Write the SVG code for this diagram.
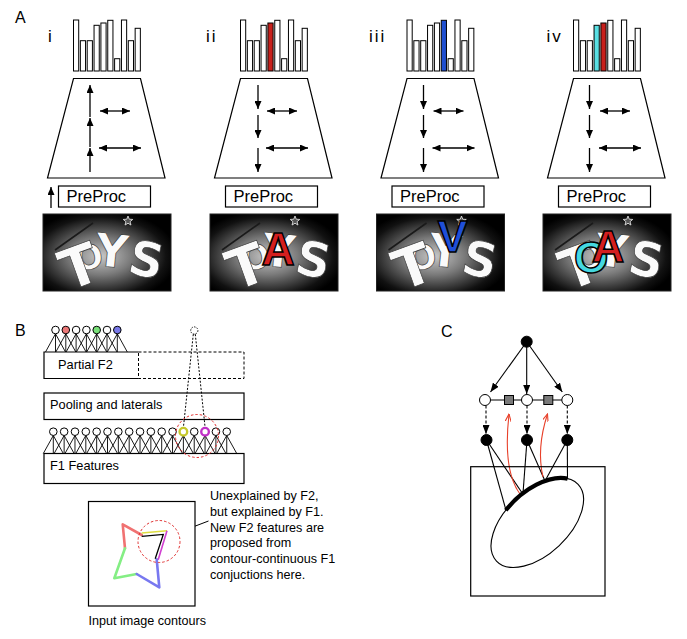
<svg xmlns="http://www.w3.org/2000/svg" width="687" height="639" viewBox="0 0 687 639">
<style>
text { font-family: "Liberation Sans", Arial, sans-serif; }
.bar { fill:#fff; stroke:#000; stroke-width:1; }
.trap { fill:#fff; stroke:#000; stroke-width:1.2; }
.arr { stroke:#000; stroke-width:1.3; fill:none; }
.box { fill:#fff; stroke:#000; stroke-width:1.2; }
.node { fill:#fff; stroke:#000; stroke-width:1; }
.bnode { fill:#000; stroke:#000; stroke-width:1; }
.fan { stroke:#000; stroke-width:0.9; fill:none; }
.lbl { font-size:16px; }
.num { font-size:17px; letter-spacing:2px; }
.pp { font-size:16.5px; }
.bt { font-size:12.8px; }
.toys text { font-family:"DejaVu Sans", sans-serif; font-weight:bold; fill:#fafafa; stroke:#3a3a3a; stroke-width:0.7; text-anchor:middle; }
.ov { font-family:"Liberation Sans", Arial, sans-serif; font-weight:bold; stroke:#000; stroke-width:1.5; text-anchor:middle; }
.red { fill:#d41f1f; }
.blue { fill:#1f4fd8; }
.cyan { fill:#44d8e0; }
.star { fill:#555; stroke:#eee; stroke-width:0.8; }
</style>
<defs>
<marker id="ar" viewBox="0 0 8 7" refX="8" refY="3.5" markerWidth="8" markerHeight="7" markerUnits="userSpaceOnUse" orient="auto-start-reverse"><path d="M0,0 L8,3.5 L0,7 z" fill="#000"/></marker>
<marker id="arC" viewBox="0 0 9 7" refX="9" refY="3.5" markerWidth="9" markerHeight="7" markerUnits="userSpaceOnUse" orient="auto"><path d="M0,0 L9,3.5 L0,7 z" fill="#000"/></marker>
<marker id="arS" viewBox="0 0 8 6" refX="8" refY="3" markerWidth="8" markerHeight="6" markerUnits="userSpaceOnUse" orient="auto"><path d="M0,0 L8,3 L0,6" fill="none" stroke="#000" stroke-width="1"/></marker>
<marker id="arR" viewBox="0 0 8 6" refX="7.5" refY="3" markerWidth="8" markerHeight="6" markerUnits="userSpaceOnUse" orient="auto"><path d="M0,0 L7.5,3 L0,6" fill="none" stroke="#e8402a" stroke-width="1.1"/></marker>
<radialGradient id="vig" cx="0.45" cy="0.55" r="0.6">
<stop offset="0" stop-color="#c8c8c8"/>
<stop offset="0.4" stop-color="#7a7a7a"/>
<stop offset="0.85" stop-color="#111"/>
<stop offset="1" stop-color="#000"/>
</radialGradient>
<clipPath id="imgclip"><rect x="43" y="214" width="128" height="77"/></clipPath>
</defs>

<rect width="687" height="639" fill="#fff"/>

<!-- Panel A -->
<text class="lbl" x="15" y="23">A</text>

<g id="panel-A-i">
<text class="num" x="48" y="42">i</text>
<g id="hist-i">
<rect class="bar" x="73.5" y="20" width="5.2" height="51"/>
<rect class="bar" x="80.35" y="40.7" width="5.2" height="30.3"/>
<rect class="bar" x="87.2" y="40.7" width="5.2" height="30.3"/>
<rect class="bar" x="94.05" y="25.3" width="5.2" height="45.7"/>
<rect class="bar" x="100.9" y="23" width="5.2" height="48"/>
<rect class="bar" x="107.75" y="20.3" width="5.2" height="50.7"/>
<rect class="bar" x="114.6" y="58.7" width="5.2" height="12.3"/>
<rect class="bar" x="121.45" y="20" width="5.2" height="51"/>
<rect class="bar" x="128.3" y="40.7" width="5.2" height="30.3"/>
<rect class="bar" x="135.15" y="28.3" width="5.2" height="42.7"/>
</g>
<g id="trap-i">
<polygon class="trap" points="73.5,78.5 140.5,78.5 165,178 47.5,178"/>
<line class="arr" x1="90" y1="172" x2="90" y2="148" marker-end="url(#ar)"/>
<line class="arr" x1="90" y1="147" x2="90" y2="118" marker-end="url(#ar)"/>
<line class="arr" x1="90" y1="117" x2="90" y2="85" marker-end="url(#ar)"/>
<line class="arr" x1="100" y1="111" x2="130" y2="111" marker-start="url(#ar)" marker-end="url(#ar)"/>
<line class="arr" x1="99" y1="148" x2="141" y2="148" marker-start="url(#ar)" marker-end="url(#ar)"/>
</g>
<g id="preproc-i">
<rect class="box" x="58.5" y="186" width="92" height="21"/>
<text class="pp" x="66.5" y="202">PreProc</text>
<line class="arr" x1="51" y1="208" x2="51" y2="187" marker-end="url(#ar)"/>
</g>
<g id="image-i">
<rect x="43" y="214" width="128" height="77" fill="url(#vig)" stroke="#222"/>
<g clip-path="url(#imgclip)">
<line x1="55" y1="250" x2="93" y2="223" stroke="#1a1a1a" stroke-width="1.6"/>
<polygon class="star" points="128,216 129.29,219.22 132.76,219.45 130.09,221.68 130.94,225.05 128,223.2 125.06,225.05 125.91,221.68 123.24,219.45 126.71,219.22"/>
<g class="toys">
<text transform="translate(91,269) rotate(-12)" font-size="34">O</text>
<text transform="translate(110,267) rotate(6)" font-size="46">Y</text>
<text transform="translate(143,276) rotate(12)" font-size="48">S</text>
<text transform="translate(86,285) rotate(-20)" font-size="56">T</text>
</g>
</g>
</g>
</g>

<g id="panel-A-ii" transform="translate(167,0)">
<text class="num" x="39" y="42">ii</text>
<g id="hist-ii">
<rect class="bar" x="73.5" y="20" width="5.2" height="51"/>
<rect class="bar" x="80.35" y="40.7" width="5.2" height="30.3"/>
<rect class="bar" x="87.2" y="40.7" width="5.2" height="30.3"/>
<rect class="bar" x="94.05" y="25.3" width="5.2" height="45.7"/>
<rect class="bar" x="100.9" y="23" width="5.2" height="48" style="fill:#c8201c"/>
<rect class="bar" x="107.75" y="20.3" width="5.2" height="50.7"/>
<rect class="bar" x="114.6" y="58.7" width="5.2" height="12.3"/>
<rect class="bar" x="121.45" y="20" width="5.2" height="51"/>
<rect class="bar" x="128.3" y="40.7" width="5.2" height="30.3"/>
<rect class="bar" x="135.15" y="28.3" width="5.2" height="42.7"/>
</g>
<g id="trap-ii">
<polygon class="trap" points="73.5,78.5 140.5,78.5 165,178 47.5,178"/>
<line class="arr" x1="91" y1="85" x2="91" y2="109" marker-end="url(#ar)"/>
<line class="arr" x1="91" y1="115" x2="91" y2="138" marker-end="url(#ar)"/>
<line class="arr" x1="91" y1="148" x2="91" y2="172" marker-end="url(#ar)"/>
<line class="arr" x1="100" y1="111" x2="130" y2="111" marker-start="url(#ar)" marker-end="url(#ar)"/>
<line class="arr" x1="99" y1="148" x2="141" y2="148" marker-start="url(#ar)" marker-end="url(#ar)"/>
</g>
<g id="preproc-ii">
<rect class="box" x="58.5" y="186" width="92" height="21"/>
<text class="pp" x="66.5" y="202">PreProc</text>
</g>
<g id="image-ii">
<rect x="43" y="214" width="128" height="77" fill="url(#vig)" stroke="#222"/>
<g clip-path="url(#imgclip)">
<line x1="55" y1="250" x2="93" y2="223" stroke="#1a1a1a" stroke-width="1.6"/>
<polygon class="star" points="128,216 129.29,219.22 132.76,219.45 130.09,221.68 130.94,225.05 128,223.2 125.06,225.05 125.91,221.68 123.24,219.45 126.71,219.22"/>
<g class="toys">
<text transform="translate(91,269) rotate(-12)" font-size="34">O</text>
<text transform="translate(110,267) rotate(6)" font-size="46">Y</text>
<text transform="translate(143,276) rotate(12)" font-size="48">S</text>
<text transform="translate(86,285) rotate(-20)" font-size="56">T</text>
</g>
<text class="ov red" x="111" y="265" font-size="46">A</text>
</g>
</g>
</g>

<g id="panel-A-iii" transform="translate(333.5,0)">
<text class="num" x="35.5" y="42">iii</text>
<g id="hist-iii">
<rect class="bar" x="73.5" y="20" width="5.2" height="51"/>
<rect class="bar" x="80.35" y="40.7" width="5.2" height="30.3"/>
<rect class="bar" x="87.2" y="40.7" width="5.2" height="30.3"/>
<rect class="bar" x="94.05" y="25.3" width="5.2" height="45.7"/>
<rect class="bar" x="100.9" y="23" width="5.2" height="48"/>
<rect class="bar" x="107.75" y="20.3" width="5.2" height="50.7" style="fill:#1f4fd0"/>
<rect class="bar" x="114.6" y="58.7" width="5.2" height="12.3"/>
<rect class="bar" x="121.45" y="20" width="5.2" height="51"/>
<rect class="bar" x="128.3" y="40.7" width="5.2" height="30.3"/>
<rect class="bar" x="135.15" y="28.3" width="5.2" height="42.7"/>
</g>
<g id="trap-iii">
<polygon class="trap" points="73.5,78.5 140.5,78.5 165,178 47.5,178"/>
<line class="arr" x1="90" y1="85" x2="90" y2="109" marker-end="url(#ar)"/>
<line class="arr" x1="90" y1="115" x2="90" y2="138" marker-end="url(#ar)"/>
<line class="arr" x1="90" y1="148" x2="90" y2="172" marker-end="url(#ar)"/>
<line class="arr" x1="100" y1="111" x2="130" y2="111" marker-start="url(#ar)" marker-end="url(#ar)"/>
<line class="arr" x1="99" y1="148" x2="141" y2="148" marker-start="url(#ar)" marker-end="url(#ar)"/>
</g>
<g id="preproc-iii">
<rect class="box" x="58.5" y="186" width="92" height="21"/>
<text class="pp" x="66.5" y="202">PreProc</text>
</g>
<g id="image-iii">
<rect x="43" y="214" width="128" height="77" fill="url(#vig)" stroke="#222"/>
<g clip-path="url(#imgclip)">
<line x1="55" y1="250" x2="93" y2="223" stroke="#1a1a1a" stroke-width="1.6"/>
<polygon class="star" points="128,216 129.29,219.22 132.76,219.45 130.09,221.68 130.94,225.05 128,223.2 125.06,225.05 125.91,221.68 123.24,219.45 126.71,219.22"/>
<g class="toys">
<text transform="translate(91,269) rotate(-12)" font-size="34">O</text>
<text transform="translate(110,267) rotate(6)" font-size="46">Y</text>
<text transform="translate(143,276) rotate(12)" font-size="48">S</text>
<text transform="translate(86,285) rotate(-20)" font-size="56">T</text>
</g>
<text class="ov blue" x="119" y="252" font-size="45">V</text>
</g>
</g>
</g>

<g id="panel-A-iv" transform="translate(500,0)">
<text class="num" x="46.5" y="42">iv</text>
<g id="hist-iv">
<rect class="bar" x="73.5" y="20" width="5.2" height="51"/>
<rect class="bar" x="80.35" y="40.7" width="5.2" height="30.3"/>
<rect class="bar" x="87.2" y="40.7" width="5.2" height="30.3"/>
<rect class="bar" x="94.05" y="25.3" width="5.2" height="45.7" style="fill:#5ae0e4"/>
<rect class="bar" x="100.9" y="23" width="5.2" height="48" style="fill:#c8201c"/>
<rect class="bar" x="107.75" y="20.3" width="5.2" height="50.7"/>
<rect class="bar" x="114.6" y="58.7" width="5.2" height="12.3"/>
<rect class="bar" x="121.45" y="20" width="5.2" height="51"/>
<rect class="bar" x="128.3" y="40.7" width="5.2" height="30.3"/>
<rect class="bar" x="135.15" y="28.3" width="5.2" height="42.7"/>
</g>
<g id="trap-iv">
<polygon class="trap" points="73.5,78.5 140.5,78.5 165,178 47.5,178"/>
<line class="arr" x1="89.5" y1="85" x2="89.5" y2="109" marker-end="url(#ar)"/>
<line class="arr" x1="89.5" y1="115" x2="89.5" y2="138" marker-end="url(#ar)"/>
<line class="arr" x1="89.5" y1="148" x2="89.5" y2="172" marker-end="url(#ar)"/>
<line class="arr" x1="100" y1="111" x2="130" y2="111" marker-start="url(#ar)" marker-end="url(#ar)"/>
<line class="arr" x1="99" y1="148" x2="141" y2="148" marker-start="url(#ar)" marker-end="url(#ar)"/>
</g>
<g id="preproc-iv">
<rect class="box" x="58.5" y="186" width="92" height="21"/>
<text class="pp" x="66.5" y="202">PreProc</text>
</g>
<g id="image-iv">
<rect x="43" y="214" width="128" height="77" fill="url(#vig)" stroke="#222"/>
<g clip-path="url(#imgclip)">
<line x1="55" y1="250" x2="93" y2="223" stroke="#1a1a1a" stroke-width="1.6"/>
<polygon class="star" points="128,216 129.29,219.22 132.76,219.45 130.09,221.68 130.94,225.05 128,223.2 125.06,225.05 125.91,221.68 123.24,219.45 126.71,219.22"/>
<g class="toys">
<text transform="translate(91,269) rotate(-12)" font-size="34">O</text>
<text transform="translate(110,267) rotate(6)" font-size="46">Y</text>
<text transform="translate(143,276) rotate(12)" font-size="48">S</text>
<text transform="translate(86,285) rotate(-20)" font-size="56">T</text>
</g>
<text class="ov cyan" x="91" y="273" font-size="44">O</text>
<text class="ov red" x="108" y="262" font-size="45">A</text>
</g>
</g>
</g>

<!-- Panel B -->
<text class="lbl" x="15" y="336">B</text>

<g id="B-fans">
<path class="fan" d="M45.5,352L55.5,333.8L65.5,352M55.5,333.8V352M55.8,352L65.8,333.8L75.8,352M65.8,333.8V352M66.1,352L76.1,333.8L86.1,352M76.1,333.8V352M76.4,352L86.4,333.8L96.4,352M86.4,333.8V352M86.7,352L96.7,333.8L106.7,352M96.7,333.8V352M97,352L107,333.8L117,352M107,333.8V352M107.3,352L117.3,333.8L127.3,352M117.3,333.8V352"/>
<path class="fan" d="M43.3,453.5L53.3,435.5L63.3,453.5M53.3,435.5V453.5M54.14,453.5L64.14,435.5L74.14,453.5M64.14,435.5V453.5M64.98,453.5L74.98,435.5L84.98,453.5M74.98,435.5V453.5M75.82,453.5L85.82,435.5L95.82,453.5M85.82,435.5V453.5M86.66,453.5L96.66,435.5L106.66,453.5M96.66,435.5V453.5M97.5,453.5L107.5,435.5L117.5,453.5M107.5,435.5V453.5M108.34,453.5L118.34,435.5L128.34,453.5M118.34,435.5V453.5M119.18,453.5L129.18,435.5L139.18,453.5M129.18,435.5V453.5M130.02,453.5L140.02,435.5L150.02,453.5M140.02,435.5V453.5M140.86,453.5L150.86,435.5L160.86,453.5M150.86,435.5V453.5M151.7,453.5L161.7,435.5L171.7,453.5M161.7,435.5V453.5M162.54,453.5L172.54,435.5L182.54,453.5M172.54,435.5V453.5M173.38,453.5L183.38,435.5L193.38,453.5M183.38,435.5V453.5M184.22,453.5L194.22,435.5L204.22,453.5M194.22,435.5V453.5M195.06,453.5L205.06,435.5L215.06,453.5M205.06,435.5V453.5M205.9,453.5L215.9,435.5L225.9,453.5M215.9,435.5V453.5M216.74,453.5L226.74,435.5L236.74,453.5M226.74,435.5V453.5"/>
</g>

<g id="partial-F2">
<path d="M138.5,352 H44 V378.5 H138.5" fill="#fff" stroke="#000" stroke-width="1.2"/>
<rect x="138.5" y="352" width="105.5" height="26.5" fill="none" stroke="#000" stroke-width="1" stroke-dasharray="3,2"/>
<text class="bt" x="58" y="369">Partial F2</text>
</g>
<g id="pooling">
<rect class="box" x="44" y="393" width="200" height="26.5"/>
<text class="bt" x="50" y="408.5">Pooling and laterals</text>
</g>
<g id="F1-features">
<rect class="box" x="44" y="453.5" width="200" height="30"/>
<text class="bt" x="50" y="470">F1 Features</text>
</g>

<g id="B-connectors">
<line x1="193.3" y1="334.2" x2="183.4" y2="427.5" stroke="#000" stroke-width="1" stroke-dasharray="2,1.6"/>
<line x1="195.3" y1="334.2" x2="205.1" y2="427.5" stroke="#000" stroke-width="1" stroke-dasharray="2,1.6"/>
<line x1="208.5" y1="521" x2="181" y2="531.5" stroke="#000" stroke-width="1" marker-end="url(#arS)"/>
</g>

<g id="F2-units">
<g id="f2-1"><circle class="node" cx="55.5" cy="330" r="3.8"/></g>
<g id="f2-2"><circle class="node" cx="65.8" cy="330" r="3.8" style="fill:#ec7878"/></g>
<g id="f2-3"><circle class="node" cx="76.1" cy="330" r="3.8"/></g>
<g id="f2-4"><circle class="node" cx="86.4" cy="330" r="3.8"/></g>
<g id="f2-5"><circle class="node" cx="96.7" cy="330" r="3.8" style="fill:#78e078"/></g>
<g id="f2-6"><circle class="node" cx="107" cy="330" r="3.8"/></g>
<g id="f2-7"><circle class="node" cx="117.3" cy="330" r="3.8" style="fill:#7878e8"/></g>
<g id="f2-new"><circle cx="194.3" cy="330.5" r="3.6" fill="#fff" stroke="#000" stroke-width="0.9" stroke-dasharray="1.5,1.2"/></g>
</g>

<g id="F1-units">
<g id="f1-1"><circle class="node" cx="53.3" cy="431.7" r="3.8"/></g>
<g id="f1-2"><circle class="node" cx="64.14" cy="431.7" r="3.8"/></g>
<g id="f1-3"><circle class="node" cx="74.98" cy="431.7" r="3.8"/></g>
<g id="f1-4"><circle class="node" cx="85.82" cy="431.7" r="3.8"/></g>
<g id="f1-5"><circle class="node" cx="96.66" cy="431.7" r="3.8"/></g>
<g id="f1-6"><circle class="node" cx="107.5" cy="431.7" r="3.8"/></g>
<g id="f1-7"><circle class="node" cx="118.34" cy="431.7" r="3.8"/></g>
<g id="f1-8"><circle class="node" cx="129.18" cy="431.7" r="3.8"/></g>
<g id="f1-9"><circle class="node" cx="140.02" cy="431.7" r="3.8"/></g>
<g id="f1-10"><circle class="node" cx="150.86" cy="431.7" r="3.8"/></g>
<g id="f1-11"><circle class="node" cx="161.7" cy="431.7" r="3.8"/></g>
<g id="f1-12"><circle class="node" cx="172.54" cy="431.7" r="3.8"/></g>
<g id="f1-13"><circle class="node" cx="183.38" cy="431.7" r="3.8" style="stroke:#c6c82c;stroke-width:2.4"/></g>
<g id="f1-14"><circle class="node" cx="194.22" cy="431.7" r="3.8"/></g>
<g id="f1-15"><circle class="node" cx="205.06" cy="431.7" r="3.8" style="stroke:#c030c8;stroke-width:2.4"/></g>
<g id="f1-16"><circle class="node" cx="215.9" cy="431.7" r="3.8"/></g>
<g id="f1-17"><circle class="node" cx="226.74" cy="431.7" r="3.8"/></g>
<circle cx="197" cy="436" r="21.5" fill="none" stroke="#e03030" stroke-width="1" stroke-dasharray="2.5,2"/>
</g>

<g id="input-image">
<rect x="88.5" y="501.5" width="106.5" height="104.5" fill="#fff" stroke="#000" stroke-width="1.2"/>
<g fill="none" stroke-width="2.6" stroke-linejoin="round" stroke-linecap="round">
<path d="M125,548.3 L122.7,524.3 L141.7,535" stroke="#f07272"/>
<path d="M125,548.3 L114.3,578.3 L136.7,574" stroke="#84ee84"/>
<path d="M136.7,574 L159.3,587.3 L156.7,559.3" stroke="#7878f0"/>
</g>
<path d="M141.7,533 L167,530.8" fill="none" stroke="#dede40" stroke-width="1.6"/>
<path d="M167,530.8 L158.2,559.8" fill="none" stroke="#d040d0" stroke-width="1.6"/>
<path d="M141.7,536.3 L163.3,534.4 L155.2,558.8" fill="none" stroke="#000" stroke-width="1.3"/>
<circle cx="159" cy="541.5" r="21" fill="none" stroke="#e03030" stroke-width="1" stroke-dasharray="2.5,2"/>
<text x="88.5" y="625" style="font-size:12.6px">Input image contours</text>
</g>

<g id="annotation" style="font-size:12.6px">
<text x="210" y="500">Unexplained by F2,</text>
<text x="210" y="515.8">but explained by F1.</text>
<text x="210" y="531.6">New F2 features are</text>
<text x="210" y="547.4">proposed from</text>
<text x="210" y="563.2">contour-continuous F1</text>
<text x="210" y="579">conjuctions here.</text>
</g>

<!-- Panel C -->
<text class="lbl" x="441" y="337">C</text>

<g id="C-connectors">
<line class="arr" x1="526.7" y1="341.7" x2="490.5" y2="392" marker-end="url(#arC)" style="stroke-width:1.1"/>
<line class="arr" x1="526.7" y1="341.7" x2="526.7" y2="394" marker-end="url(#arC)" style="stroke-width:1.1"/>
<line class="arr" x1="526.7" y1="341.7" x2="562.3" y2="392" marker-end="url(#arC)" style="stroke-width:1.1"/>
<line x1="485" y1="400" x2="567.3" y2="400" stroke="#000" stroke-width="1.1"/>
<line class="arr" x1="486" y1="405.5" x2="486" y2="434" stroke-dasharray="3,2" marker-end="url(#arC)" style="stroke-width:1.1"/>
<line class="arr" x1="527" y1="405.5" x2="527" y2="434" stroke-dasharray="3,2" marker-end="url(#arC)" style="stroke-width:1.1"/>
<line class="arr" x1="567.3" y1="405.5" x2="567.3" y2="434" stroke-dasharray="3,2" marker-end="url(#arC)" style="stroke-width:1.1"/>
<g stroke="#000" stroke-width="1.1" fill="none">
<line x1="486.5" y1="440" x2="506" y2="510.3"/>
<line x1="486.5" y1="440" x2="522.5" y2="493.5"/>
<line x1="527" y1="440" x2="523" y2="493.3"/>
<line x1="527" y1="440" x2="545" y2="481"/>
<line x1="567.3" y1="440" x2="545" y2="481"/>
<line x1="567.3" y1="440" x2="567.5" y2="478.6"/>
</g>
<path d="M520,494 C508,478 505,450 509,414" fill="none" stroke="#e8402a" stroke-width="1.1" marker-end="url(#arR)"/>
<path d="M543,477 C539,460 540,437 547.5,414" fill="none" stroke="#e8402a" stroke-width="1.1" marker-end="url(#arR)"/>
</g>

<g id="C-top"><circle class="bnode" cx="526.7" cy="341.7" r="5.5"/></g>
<g id="C-mid-1"><circle class="node" cx="485" cy="400" r="5.5"/></g>
<g id="C-sq-1"><rect x="504.5" y="395.5" width="9" height="9" fill="#7a7a7a" stroke="#000" stroke-width="1"/></g>
<g id="C-mid-2"><circle class="node" cx="527" cy="400" r="5.5"/></g>
<g id="C-sq-2"><rect x="543.8" y="395.5" width="9" height="9" fill="#7a7a7a" stroke="#000" stroke-width="1"/></g>
<g id="C-mid-3"><circle class="node" cx="567.3" cy="400" r="5.5"/></g>
<g id="C-low-1"><circle class="bnode" cx="486.5" cy="440" r="5.5"/></g>
<g id="C-low-2"><circle class="bnode" cx="527" cy="440" r="5.5"/></g>
<g id="C-low-3"><circle class="bnode" cx="567.3" cy="440" r="5.5"/></g>

<g id="C-image">
<rect x="470.7" y="466.7" width="134.3" height="129.3" fill="none" stroke="#000" stroke-width="1.2"/>
<ellipse cx="537.3" cy="522.7" rx="56" ry="31.7" transform="rotate(-43.2 537.3 522.7)" fill="none" stroke="#000" stroke-width="1.1"/>
<path d="M505.8,510.3 A56,31.7 -43.2 0 1 567.6,478.6" fill="none" stroke="#000" stroke-width="4.2"/>
</g>
</svg>
